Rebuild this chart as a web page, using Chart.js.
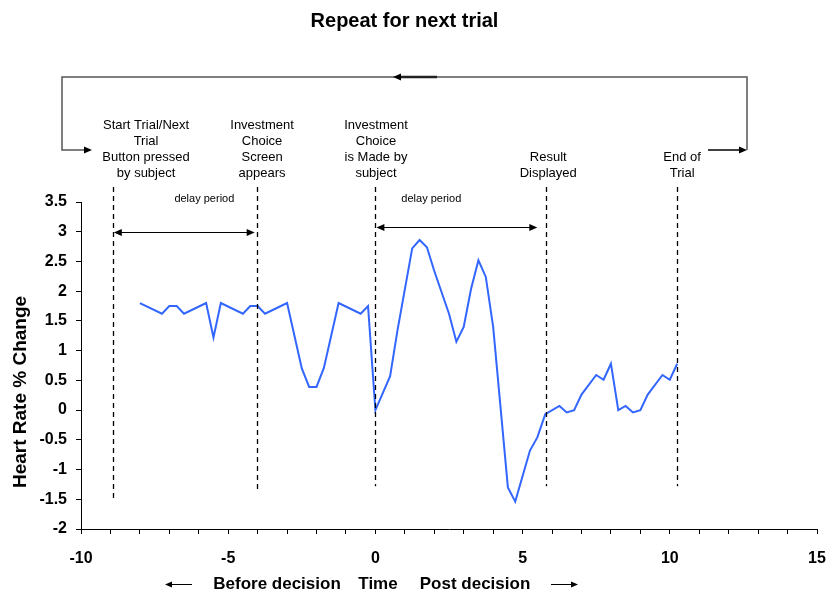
<!DOCTYPE html>
<html>
<head>
<meta charset="utf-8">
<script src="https://cdn.jsdelivr.net/npm/chart.js@4/dist/chart.umd.min.js"></script>
<style>
  body { margin: 0; background: #fff; }
  #wrap { width: 830px; height: 595px; }
</style>
</head>
<body>
<div id="wrap"><canvas id="hrChart" width="830" height="595"></canvas></div>
<script>
// time (s) relative to decision, and heart rate % change
const timeVals = [-8.0, -7.25, -7.0, -6.75, -6.5, -5.75, -5.5, -5.25, -4.5, -4.25, -4.0, -3.75,
  -3.0, -2.75, -2.5, -2.25, -2.0, -1.75, -1.25, -0.5, -0.25, 0.0, 0.5, 0.75, 1.25, 1.5, 1.75,
  2.0, 2.5, 2.75, 3.0, 3.25, 3.5, 3.75, 4.0, 4.5, 4.75, 5.25, 5.5, 5.77, 6.25, 6.5, 6.75, 7.0,
  7.5, 7.75, 8.0, 8.25, 8.5, 8.75, 9.0, 9.25, 9.75, 10.0, 10.25];
const hrVals = [1.80, 1.62, 1.75, 1.75, 1.62, 1.80, 1.22, 1.80, 1.62, 1.75, 1.75, 1.62,
  1.80, 1.25, 0.70, 0.39, 0.39, 0.71, 1.80, 1.62, 1.75, 0.0, 0.57, 1.34, 2.72, 2.86, 2.74,
  2.34, 1.62, 1.15, 1.40, 2.04, 2.52, 2.24, 1.40, -1.30, -1.54, -0.68, -0.46, -0.07, 0.07, -0.04, 0.0, 0.26,
  0.59, 0.51, 0.78, 0.0, 0.07, -0.04, 0.0, 0.26, 0.59, 0.51, 0.78];

// x axis ticks
const xTicks = [-10, -5, 0, 5, 10, 15];

// event markers (dashed lines)
const eventTimes = [-8.92, -4.02, 0, 5.8, 10.25];
const eventBottoms = [-1.5, -1.38, -1.28, -1.28, -1.28];
const eventLabels = [
  ['Start Trial/Next', 'Trial', 'Button pressed', 'by subject'],
  ['Investment', 'Choice', 'Screen', 'appears'],
  ['Investment', 'Choice', 'is Made by', 'subject'],
  ['Result', 'Displayed'],
  ['End of', 'Trial']
];
const eventLabelX = [-7.79, -3.85, 0.02, 5.87, 10.42];

// delay periods
const delayStart = [-8.92, 0];
const delayEnd = [-4.1, 5.5];
const delayLevel = [3.0, 3.08];
const delayTextX = [-5.81, 1.9];

const FONT = "Arial, 'Liberation Sans', sans-serif";

function arrowHead(ctx, x, y, dir, len, half) {
  // dir: 1 = right, -1 = left
  ctx.beginPath();
  ctx.moveTo(x, y);
  ctx.lineTo(x - dir * len, y - half);
  ctx.lineTo(x - dir * len, y + half);
  ctx.closePath();
  ctx.fill();
}

const overlay = {
  id: 'overlay',
  afterDraw(chart) {
    const ctx = chart.ctx;
    const xs = chart.scales.x, ys = chart.scales.y;
    ctx.save();
    ctx.fillStyle = '#000';
    ctx.strokeStyle = '#000';

    // main title
    ctx.font = 'bold 20px ' + FONT;
    ctx.textAlign = 'center';
    ctx.textBaseline = 'middle';
    ctx.fillText('Repeat for next trial', 404.5, 21);

    // y axis title
    ctx.save();
    ctx.translate(20.5, 392);
    ctx.rotate(-Math.PI / 2);
    ctx.font = 'bold 19px ' + FONT;
    ctx.fillText('Heart Rate % Change', 0, 0);
    ctx.restore();

    // loop back arrow
    ctx.strokeStyle = '#555';
    ctx.fillStyle = '#000';
    ctx.lineWidth = 1.5;
    ctx.beginPath();
    ctx.moveTo(88, 150);
    ctx.lineTo(62, 150);
    ctx.lineTo(62, 77);
    ctx.lineTo(747, 77);
    ctx.lineTo(747, 150);
    ctx.stroke();
    ctx.strokeStyle = '#000';
    ctx.beginPath();
    ctx.moveTo(708, 150);
    ctx.lineTo(742, 150);
    ctx.stroke();
    arrowHead(ctx, 92, 150, 1, 8, 3.5);
    arrowHead(ctx, 747, 150, 1, 8, 3.5);
    ctx.lineWidth = 2.5;
    ctx.strokeStyle = '#222';
    ctx.beginPath();
    ctx.moveTo(400, 77);
    ctx.lineTo(437, 77);
    ctx.stroke();
    arrowHead(ctx, 393, 77, -1, 8, 3.5);

    // event labels
    ctx.font = '13px ' + FONT;
    ctx.fillStyle = '#000';
    eventLabels.forEach((lines, i) => {
      const cx = xs.getPixelForValue(eventLabelX[i]);
      const startY = 173 - (lines.length - 1) * 15.7;
      lines.forEach((t, j) => ctx.fillText(t, cx, startY + j * 15.7));
    });

    // dashed event lines
    ctx.lineWidth = 1.3;
    ctx.strokeStyle = '#000';
    ctx.setLineDash([5, 4]);
    eventTimes.forEach((t, i) => {
      const px = Math.round(xs.getPixelForValue(t)) + 0.5;
      ctx.beginPath();
      ctx.moveTo(px, 187);
      ctx.lineTo(px, ys.getPixelForValue(eventBottoms[i]));
      ctx.stroke();
    });
    ctx.setLineDash([]);

    // delay period arrows
    ctx.font = '11px ' + FONT;
    ctx.lineWidth = 1;
    delayStart.forEach((s, i) => {
      const x1 = xs.getPixelForValue(s) + 1;
      const x2 = xs.getPixelForValue(delayEnd[i]);
      const py = Math.round(ys.getPixelForValue(delayLevel[i])) + 0.5;
      ctx.beginPath();
      ctx.moveTo(x1 + 6, py);
      ctx.lineTo(x2 - 6, py);
      ctx.stroke();
      arrowHead(ctx, x1, py, -1, 8, 3.5);
      arrowHead(ctx, x2, py, 1, 8, 3.5);
      ctx.fillText('delay period', xs.getPixelForValue(delayTextX[i]), 199);
    });

    // bottom caption
    ctx.font = 'bold 17px ' + FONT;
    ctx.fillText('Before decision', 277, 584);
    ctx.fillText('Time', 378, 584);
    ctx.fillText('Post decision', 475, 584);
    ctx.lineWidth = 1;
    ctx.beginPath();
    ctx.moveTo(170, 584.5);
    ctx.lineTo(192, 584.5);
    ctx.moveTo(551, 584.5);
    ctx.lineTo(573, 584.5);
    ctx.stroke();
    arrowHead(ctx, 165, 584.5, -1, 7, 3);
    arrowHead(ctx, 578, 584.5, 1, 7, 3);

    ctx.restore();
  }
};

const ctx = document.getElementById('hrChart').getContext('2d');
const hrChart = new Chart(ctx, {
  type: 'line',
  data: {
    datasets: [{
      data: timeVals.map((t, i) => ({ x: t, y: hrVals[i] })),
      borderColor: '#3366ff',
      borderWidth: 2,
      pointRadius: 0,
      tension: 0,
      fill: false
    }]
  },
  options: {
    responsive: false,
    animation: false,
    layout: { padding: { top: 202, right: 13, left: 0, bottom: 0 } },
    plugins: {
      legend: { display: false },
      tooltip: { enabled: false },
      title: { display: false }
    },
    scales: {
      x: {
        type: 'linear',
        min: -10,
        max: 15,
        afterFit(scale) {
          scale.height = 66;
          scale.paddingLeft = 0;
          scale.paddingRight = 0;
        },
        ticks: {
          stepSize: 1,
          autoSkip: false,
          maxRotation: 0,
          color: '#000',
          padding: 15,
          font: { family: FONT, size: 16, weight: 'bold' },
          callback: v => xTicks.includes(v) ? String(v) : ''
        },
        grid: { drawOnChartArea: false, tickLength: 5, color: '#000' },
        border: { color: '#000', width: 1 }
      },
      y: {
        min: -2,
        max: 3.5,
        afterFit(scale) { scale.width = 81; },
        ticks: {
          stepSize: 0.5,
          color: '#000',
          padding: 9,
          font: { family: FONT, size: 16, weight: 'bold' },
          callback: v => String(Math.round(v * 10) / 10)
        },
        grid: { drawOnChartArea: false, tickLength: 5, color: '#000' },
        border: { color: '#000', width: 1 }
      }
    }
  },
  plugins: [overlay]
});
</script>
</body>
</html>
